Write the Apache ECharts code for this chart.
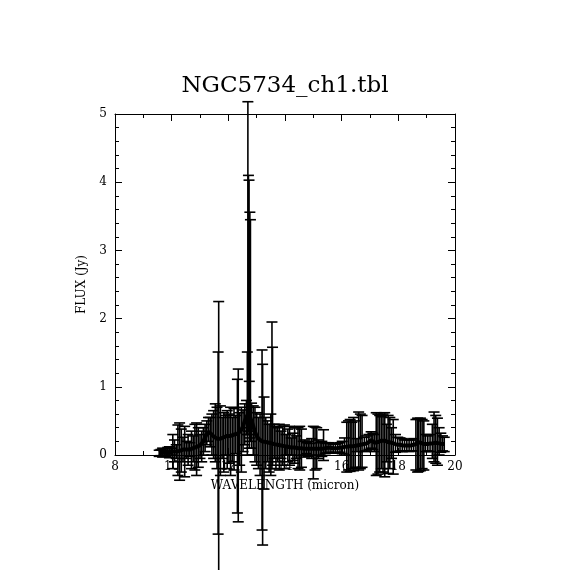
<!DOCTYPE html>
<html>
<head>
<meta charset="utf-8">
<script src="https://cdn.jsdelivr.net/npm/echarts@6/dist/echarts.min.js"></script>
<style>html,body{margin:0;padding:0;background:#fff}#c{width:570px;height:570px}</style>
</head>
<body>
<div id="c"></div>
<script>
const titleText = "NGC5734_ch1.tbl";
const xName = "WAVELENGTH (micron)";
const yName = "FLUX (Jy)";
const xTicks = [8, 10, 12, 14, 16, 18, 20];
const yTicks = [0, 1, 2, 3, 4, 5];

const wave = [9.56,9.62,9.68,9.74,9.80,9.86,9.92,9.98,
10.04,10.10,10.16,10.22,10.28,10.34,10.40,10.46,10.52,10.58,10.64,10.70,10.76,10.82,10.88,10.94,11.00,
11.06,11.12,11.18,11.24,11.30,11.36,11.42,11.48,11.54,11.60,11.64,11.66,11.72,11.78,11.84,11.90,11.96,
12.02,12.08,12.14,12.20,12.26,12.32,12.35,12.40,12.46,12.52,12.58,12.64,12.67,12.69,12.71,12.73,12.74,12.76,12.78,
12.82,12.88,12.94,13.00,13.06,13.12,13.19,13.21,13.26,13.32,13.38,13.44,13.50,13.54,13.56,13.62,13.68,13.74,13.80,13.86,13.92,13.98,
14.04,14.10,14.16,14.22,14.28,14.34,14.40,14.46,14.52,14.58,14.64,14.70,14.76,14.82,14.88,14.94,15.00,
15.06,15.12,15.18,15.24,15.30,15.36,15.42,15.48,15.55,15.62,15.70,15.78,15.86,15.94,16.02,16.10,16.18,16.24,16.30,16.36,16.42,16.48,16.54,16.60,16.66,16.72,16.80,16.88,16.96,
17.04,17.10,17.16,17.22,17.28,17.34,17.40,17.46,17.52,17.58,17.64,17.70,17.76,17.82,17.90,17.98,
18.06,18.14,18.22,18.30,18.38,18.46,18.54,18.62,18.68,18.72,18.78,18.84,18.90,18.96,
19.04,19.12,19.20,19.26,19.32,19.38,19.44,19.50,19.56,19.62];

const flux = [0.03,0.03,0.04,0.03,0.04,0.05,0.04,0.05,
0.05,0.06,0.05,0.07,0.06,0.07,0.08,0.07,0.08,0.09,0.08,0.10,0.10,0.11,0.12,0.13,0.14,
0.16,0.20,0.26,0.31,0.34,0.33,0.30,0.27,0.25,0.24,0.23,0.23,0.24,0.25,0.26,0.27,0.28,
0.27,0.28,0.29,0.30,0.30,0.31,0.32,0.34,0.37,0.42,0.50,0.56,0.58,0.60,0.60,0.59,0.58,0.56,0.54,
0.50,0.42,0.34,0.28,0.24,0.22,0.20,0.19,0.20,0.19,0.18,0.18,0.17,0.17,0.16,0.16,0.15,0.15,0.14,0.14,0.13,0.13,
0.12,0.12,0.12,0.11,0.11,0.11,0.10,0.10,0.10,0.10,0.09,0.09,0.09,0.09,0.09,0.09,0.09,
0.09,0.09,0.09,0.09,0.09,0.10,0.10,0.10,0.11,0.10,0.10,0.10,0.10,0.11,0.11,0.12,0.12,0.12,0.13,0.13,0.13,0.14,0.14,0.14,0.15,0.15,0.16,0.17,0.19,
0.22,0.20,0.18,0.18,0.19,0.20,0.21,0.22,0.21,0.20,0.19,0.19,0.18,0.17,0.16,0.15,
0.15,0.14,0.14,0.14,0.14,0.14,0.15,0.16,0.19,0.20,0.18,0.17,0.16,0.16,
0.16,0.17,0.17,0.18,0.18,0.18,0.17,0.17,0.16,0.16];

const lower = [-0.02,-0.01,-0.03,0.00,-0.02,-0.01,-0.04,0.00,
-0.20,-0.10,-0.05,-0.30,-0.37,-0.25,-0.10,-0.32,-0.05,-0.15,-0.02,-0.20,-0.10,-0.22,-0.30,-0.18,-0.05,
-0.10,0.00,0.05,0.15,0.20,0.12,0.00,-0.05,-0.10,-0.20,-1.16,-1.80,-0.30,-0.05,-0.25,0.00,-0.20,
-0.12,-0.30,-0.10,-0.22,0.02,-0.85,-0.98,-0.15,-0.25,0.05,0.15,0.30,0.00,0.40,0.35,0.30,0.10,0.25,0.20,
0.10,0.00,-0.10,-0.15,-0.20,-0.30,-1.10,-1.32,-0.50,-0.20,-0.10,-0.25,-0.30,-0.20,-0.15,-0.05,-0.20,-0.10,-0.22,-0.05,-0.15,-0.20,
0.00,-0.10,-0.15,0.00,-0.08,-0.12,-0.05,-0.20,-0.22,-0.18,0.00,-0.03,0.02,-0.02,0.00,-0.05,-0.35,
-0.22,-0.20,-0.05,0.00,-0.02,-0.08,0.02,0.03,0.04,0.03,0.03,0.04,0.03,0.04,0.02,0.00,-0.25,-0.22,-0.24,-0.20,-0.23,-0.18,0.05,-0.22,-0.20,-0.18,0.05,0.06,0.08,
0.10,0.08,0.05,-0.30,-0.28,-0.25,-0.20,-0.25,-0.32,-0.10,-0.27,-0.20,-0.05,-0.28,0.04,0.05,
0.06,0.05,0.06,0.06,0.05,0.06,0.06,-0.22,-0.25,-0.24,-0.23,-0.20,-0.22,0.05,
0.06,0.05,-0.05,-0.10,-0.12,-0.15,0.00,0.04,0.06,0.05];

const upper = [0.07,0.08,0.10,0.06,0.09,0.11,0.12,0.10,
0.30,0.22,0.15,0.44,0.47,0.38,0.26,0.42,0.20,0.30,0.18,0.35,0.28,0.45,0.47,0.40,0.30,
0.35,0.40,0.45,0.50,0.55,0.55,0.60,0.65,0.75,0.70,1.51,2.25,0.72,0.55,0.62,0.58,0.65,
0.60,0.70,0.55,0.68,0.58,1.11,1.26,0.62,0.70,0.66,0.75,0.80,1.51,5.18,4.10,4.03,1.08,3.56,3.45,
0.76,0.72,0.70,0.62,0.55,0.60,1.54,1.33,0.85,0.55,0.50,0.45,0.60,1.95,1.58,0.45,0.42,0.40,0.45,0.35,0.42,0.44,
0.30,0.38,0.42,0.25,0.32,0.40,0.28,0.40,0.42,0.38,0.20,0.22,0.18,0.20,0.17,0.24,0.42,
0.41,0.40,0.22,0.18,0.20,0.37,0.18,0.17,0.18,0.17,0.16,0.16,0.17,0.18,0.20,0.25,0.48,0.50,0.52,0.48,0.55,0.50,0.24,0.63,0.60,0.58,0.26,0.28,0.30,
0.34,0.32,0.30,0.62,0.60,0.58,0.56,0.60,0.62,0.45,0.58,0.55,0.40,0.52,0.30,0.26,
0.25,0.24,0.22,0.23,0.22,0.22,0.24,0.52,0.54,0.53,0.54,0.52,0.50,0.30,
0.28,0.30,0.45,0.63,0.58,0.54,0.40,0.32,0.28,0.26];

const errData = wave.map((w, i) => [w, flux[i], lower[i], upper[i]]);
const lineData = wave.map((w, i) => [w, flux[i]]);

const serif = "DejaVu Serif";
const chart = echarts.init(document.getElementById('c'), null, {renderer: 'canvas'});

function makeAxis(extra, showLabel, split) {
  return Object.assign({
    type: 'value',
    axisLine: {show: true, onZero: false, lineStyle: {color: '#000', width: 1}},
    axisTick: {show: true, inside: true, length: 7, lineStyle: {color: '#000', width: 1}},
    minorTick: {show: true, splitNumber: split, length: 4, lineStyle: {color: '#000', width: 1}},
    splitLine: {show: false},
    axisLabel: {show: showLabel, color: '#000', fontFamily: serif, fontSize: 12}
  }, extra);
}

const option = {
  animation: false,
  backgroundColor: '#fff',
  title: {
    text: titleText, left: 'center', top: 70,
    textStyle: {fontFamily: serif, fontSize: 23, fontWeight: 'normal', color: '#000'}
  },
  grid: {left: 115, right: 115, top: 114, bottom: 115},
  xAxis: [
    makeAxis({position: 'bottom', min: xTicks[0], max: xTicks[xTicks.length-1], interval: 2,
      name: xName, nameLocation: 'middle', nameGap: 25,
      nameTextStyle: {fontFamily: serif, fontSize: 12, color: '#000'},
      axisLabel: {show: true, color: '#000', fontFamily: serif, fontSize: 12, margin: 6}}, true, 2),
    makeAxis({position: 'top', min: xTicks[0], max: xTicks[xTicks.length-1], interval: 2}, false, 2)
  ],
  yAxis: [
    makeAxis({position: 'left', min: yTicks[0], max: yTicks[yTicks.length-1], interval: 1,
      name: yName, nameLocation: 'middle', nameGap: 27,
      nameTextStyle: {fontFamily: serif, fontSize: 12, color: '#000'},
      axisLabel: {show: true, color: '#000', fontFamily: serif, fontSize: 12, margin: 8}}, true, 5),
    makeAxis({position: 'right', min: yTicks[0], max: yTicks[yTicks.length-1], interval: 1}, false, 5)
  ],
  series: [
    {
      type: 'custom', xAxisIndex: 0, yAxisIndex: 0, clip: false,
      data: errData,
      renderItem: function (params, api) {
        const x = api.value(0);
        const pHi = api.coord([x, api.value(3)]);
        const pLo = api.coord([x, api.value(2)]);
        const hw = 5.5;
        const st = {stroke: '#000', lineWidth: 1.6};
        return {
          type: 'group',
          children: [
            {type: 'line', shape: {x1: pHi[0], y1: pHi[1], x2: pLo[0], y2: pLo[1]}, style: st},
            {type: 'line', shape: {x1: pHi[0]-hw, y1: pHi[1], x2: pHi[0]+hw, y2: pHi[1]}, style: st},
            {type: 'line', shape: {x1: pLo[0]-hw, y1: pLo[1], x2: pLo[0]+hw, y2: pLo[1]}, style: st}
          ]
        };
      }
    },
    {
      type: 'line', xAxisIndex: 0, yAxisIndex: 0, data: lineData,
      showSymbol: false, lineStyle: {color: '#000', width: 4}, clip: false
    }
  ]
};
chart.setOption(option);
</script>
</body>
</html>
